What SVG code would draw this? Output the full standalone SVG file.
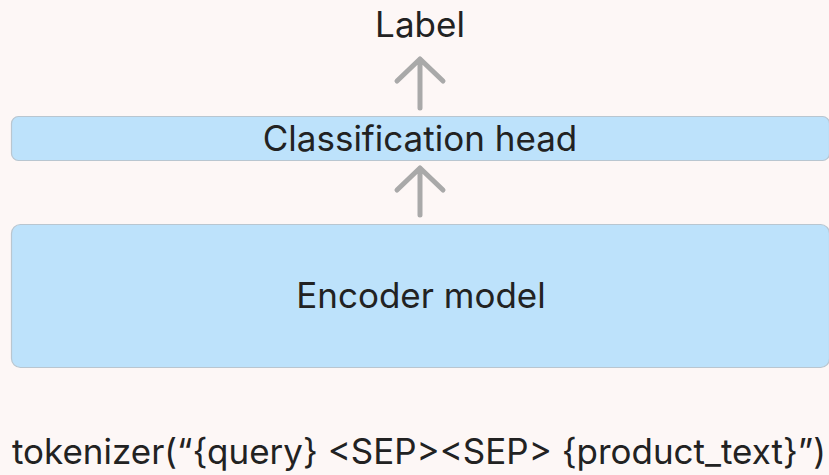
<svg xmlns="http://www.w3.org/2000/svg" width="829" height="475" viewBox="0 0 829 475">
<style>
.box{fill:#bde2fb;stroke:#b9c6d0;stroke-width:1.2}
.t{font-family:Inter,"Liberation Sans",sans-serif;fill:#222;font-size:35px;text-anchor:middle}
.arr{fill:none;stroke:#a9a9a9;stroke-width:5;stroke-linecap:round;stroke-linejoin:round}
</style>
<rect width="829" height="475" fill="#fdf7f6"/>
<g id="label"><text class="t" x="420" y="37">Label</text></g>
<g id="classification-head"><rect class="box" x="11.5" y="116.5" width="818" height="44" rx="7"/><text class="t" x="420" y="151">Classification head</text></g>
<g id="encoder"><rect class="box" x="11.5" y="224.5" width="818" height="143" rx="9"/><text class="t" x="421" y="308">Encoder model</text></g>
<g id="input"><text class="t" x="419" y="464" textLength="814" lengthAdjust="spacingAndGlyphs">tokenizer(“{query} &lt;SEP&gt;&lt;SEP&gt; {product_text}”)</text></g>
<g id="connectors">
<path class="arr" d="M420 108V59M397 81L420 59L443 81"/>
<path class="arr" d="M420 215V168M397 190L420 168L443 190"/>
</g>
</svg>
